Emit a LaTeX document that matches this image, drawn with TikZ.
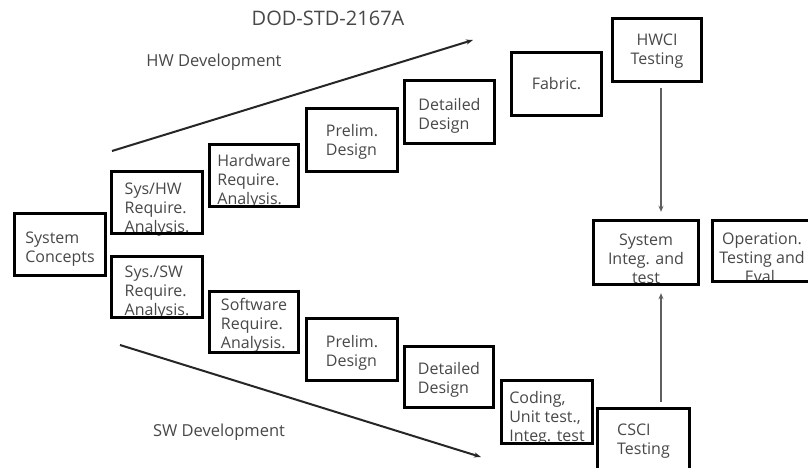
\documentclass[tikz,border=0pt]{standalone}
\usepackage{fontspec}
\setmainfont{Open Sans}
\usetikzlibrary{arrows.meta}
\definecolor{txtgray}{RGB}{72,72,72}
\definecolor{arrgray}{RGB}{95,95,95}
\begin{document}
\begin{tikzpicture}[x=1pt,y=-1pt,
  box/.style n args={2}{inner sep=0pt, minimum width=#1, minimum height=#2},
  border/.style={draw=black, line width=3pt},
  txt/.style={text=txtgray, font=\fontsize{16}{19}\selectfont, align=left, inner sep=0pt},
  ctxt/.style={txt, align=center},
  heading/.style={text=txtgray, inner sep=0pt},
  varr/.style={draw=arrgray, line width=1.8pt, -{Stealth[length=6pt,width=5pt]},
    shorten <=7pt, shorten >=9pt},
  diag/.style={draw=black!85, line width=2pt, -{Stealth[length=7pt,width=5pt]}}]

\useasboundingbox (0,0) rectangle (808,468);
\clip (0,0) rectangle (808,468);
\fill[white] (0,0) rectangle (808,468);

% title and branch captions
\node[heading, font=\fontsize{20}{24}\selectfont] (title) at (328,18) {DOD-STD-2167A};
\node[heading, font=\fontsize{16.5}{20}\selectfont] (hwcap) at (214,62) {HW Development};
\node[heading, font=\fontsize{16.5}{20}\selectfont] (swcap) at (219,432) {SW Development};

% system level
\node[box={90}{61}, label={[txt,yshift=-4.5]center:{System\\Concepts}}] (sc) at (60,244.5) {};
\node[box={90}{61}, label={[txt,yshift=-7]center:{Sys/HW\\Require.\\Analysis.}}] (shw) at (157,202.5) {};
\node[box={90}{60}, label={[txt,yshift=-5.5]center:{Sys./SW\\Require.\\Analysis.}}] (ssw) at (157,287) {};

% hardware branch
\node[box={88}{61}, label={[txt,yshift=-5.5]center:{Hardware\\Require.\\Analysis.}}] (hra) at (254,175.5) {};
\node[box={90}{62}, label={[txt,yshift=-2]center:{Prelim.\\Design}}] (hpd) at (352,140) {};
\node[box={89}{62}, label={[txt,yshift=-4]center:{Detailed\\Design}}] (hdd) at (449.5,112) {};
\node[box={89}{62}, label={[txt]center:{Fabric.}}] (fab) at (556.5,84) {};
\node[box={88}{62}, label={[ctxt,yshift=-1]center:{HWCI\\Testing}}] (hwci) at (657,50) {};

% software branch
\node[box={88}{60}, label={[txt,yshift=-3.5]center:{Software\\Require.\\Analysis.}}] (sra) at (254,322) {};
\node[box={90}{61}, label={[txt,yshift=-3]center:{Prelim.\\Design}}] (spd) at (352,349.5) {};
\node[box={88}{60}, label={[txt,yshift=-3]center:{Detailed\\Design}}] (sdd) at (449,377) {};
\node[box={90}{62}, label={[txt,yshift=-6]center:{Coding,\\Unit test.,\\Integ. test}}] (cod) at (547,412) {};
\node[box={91}{62}, label={[txt,yshift=-1.5]center:{CSCI\\Testing}}] (csci) at (643.5,440) {};

% integration and operation
\node[box={104}{63}, label={[ctxt,yshift=-6.5]center:{System\\Integ. and\\test}}] (sit) at (646,252.5) {};
\node[box={98}{60}, label={[ctxt,yshift=-7]center:{Operation.\\Testing and\\Eval.}}] (ote) at (762,251) {};

% frames drawn over the text so that overlong lines tuck under them
\foreach \n in {sc,shw,ssw,hra,hpd,hdd,fab,hwci,sra,spd,sdd,cod,csci,sit,ote}
  \draw[border] (\n.north west) rectangle (\n.south east);

% vertical flows into system integration
\coordinate (ax) at (661,0);
\draw[varr] (hwci.south -| ax) -- (sit.north -| ax);
\draw[varr] (csci.north -| ax) -- (sit.south -| ax);

% development direction arrows
\coordinate (hw0) at (112,151);
\coordinate (hw1) at (473,40);
\coordinate (sw0) at (120,345);
\coordinate (sw1) at (481,457);
\draw[diag] (hw0) -- (hw1);
\draw[diag] (sw0) -- (sw1);
\end{tikzpicture}
\end{document}
